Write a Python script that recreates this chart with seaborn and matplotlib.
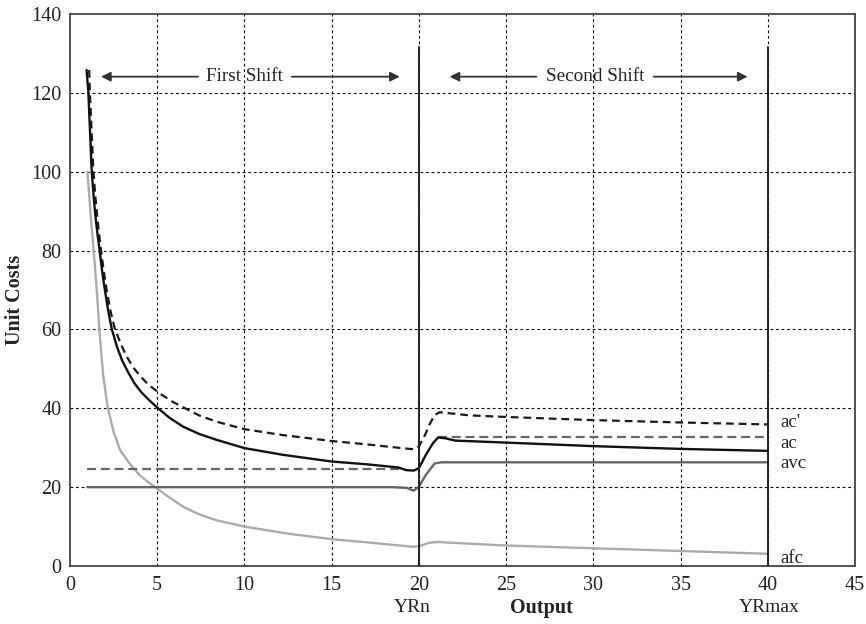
import matplotlib
matplotlib.use("Agg")
import matplotlib.pyplot as plt
import seaborn as sns
import pandas as pd

# ---- data ----
ac_x = [0.95, 1.05, 1.15, 1.24, 1.35, 1.45, 1.58, 1.7, 1.85, 2.0, 2.2, 2.4, 2.7, 3.0, 3.35, 3.7, 4.1, 4.6, 5.0,
        5.7, 6.5, 7.4, 8.4, 10.0, 12.2, 15.0, 17.0, 18.8, 19.3, 19.7, 20.0, 20.4, 20.8, 21.1, 21.5, 22.1,
        25.0, 30.0, 35.0, 40.0]
ac_y = [125.8, 120.3, 110.0, 100.4, 94.0, 89.0, 84.0, 80.0, 74.5, 70.0, 64.5, 60.0, 55.5, 52.0, 49.0, 46.3, 44.0, 41.8, 40.2,
        37.6, 35.3, 33.5, 32.0, 29.9, 28.2, 26.5, 25.8, 25.0, 24.3, 24.2, 24.8, 28.2, 31.1, 32.6, 32.4, 31.8,
        31.3, 30.4, 29.7, 29.2]

acp_x = [1.1, 1.14, 1.24, 1.34, 1.45, 1.55, 1.66, 1.78, 1.93, 2.1, 2.33, 2.58, 2.9, 3.2, 3.6, 4.0, 4.49, 5.2,
         5.9, 6.6, 7.4, 8.4, 10.0, 12.2, 15.0, 16.9, 18.8, 19.7, 20.0, 20.4, 20.6, 20.9, 21.2, 22.9,
         25.0, 30.0, 35.0, 40.0]
acp_y = [125.8, 120.0, 110.0, 100.0, 94.0, 89.0, 84.5, 80.0, 75.0, 70.0, 64.5, 60.0, 56.5, 53.5, 50.5, 48.3, 46.0, 43.6,
         41.6, 40.0, 38.2, 36.6, 34.7, 33.2, 31.7, 30.9, 30.0, 29.6, 30.3, 33.7, 35.8, 38.3, 39.0, 38.2,
         37.8, 37.0, 36.4, 35.9]

avc_x = [1.0, 18.5, 19.3, 19.7, 20.0, 20.4, 20.9, 21.3, 40.0]
avc_y = [20.0, 20.0, 19.8, 19.1, 20.1, 23.1, 26.0, 26.3, 26.3]

afc_x = [1.0, 1.1, 1.2, 1.3, 1.43, 1.55, 1.68, 1.9, 2.15, 2.5, 2.87, 3.5, 4.0, 4.5, 5.0, 5.7, 6.5, 7.4, 8.4,
         10.0, 12.5, 15.0, 17.5, 19.6, 20.0, 20.6, 21.1, 21.8, 25.0, 30.0, 35.0, 40.0]
afc_y = [100.0, 94.0, 88.0, 83.0, 76.0, 69.0, 60.0, 48.5, 40.5, 34.0, 29.4, 25.5, 23.0, 21.2, 19.6, 17.4, 15.0, 13.1, 11.6,
         10.0, 8.2, 6.8, 5.8, 4.9, 5.0, 5.9, 6.1, 5.9, 5.2, 4.5, 3.8, 3.1]

prem1_x = [1.0, 19.0]
prem1_y = [24.6, 24.6]
prem2_x = [21.1, 40.0]
prem2_y = [32.8, 32.8]

x_ticks = [0, 5, 10, 15, 20, 25, 30, 35, 40, 45]
y_ticks = [0, 20, 40, 60, 80, 100, 120, 140]
shift_marks = [20, 40]
shift_mark_top = 131.7
curve_labels = ["ac'", "ac", "avc", "afc"]
curve_label_y = [36.4, 31.0, 25.9, 1.8]
bottom_labels = ["YRn", "YRmax"]
bottom_label_x = [19.6, 40.1]

# ---- style ----
sns.set_theme(style="white")
plt.rcParams["font.family"] = ["Liberation Serif", "DejaVu Serif"]

fig = plt.figure(figsize=(8.66, 6.24), dpi=100)
ax = fig.add_axes([70 / 866, 1 - 566 / 624, (855 - 70) / 866, (566 - 14) / 624])

grid_kw = dict(color="black", lw=0.8, linestyle=(0, (2.5, 2.5)), zorder=0)
for xv in x_ticks[1:-1]:
    ax.axvline(xv, **grid_kw)
for yv in y_ticks[1:-1]:
    ax.axhline(yv, **grid_kw)

def draw(x, y, **kw):
    df = pd.DataFrame({"x": x, "y": y})
    sns.lineplot(data=df, x="x", y="y", ax=ax, sort=False, estimator=None, **kw)

draw(afc_x, afc_y, color="#ababab", lw=1.7)
draw(avc_x, avc_y, color="#666666", lw=1.7)
draw(prem1_x, prem1_y, color="#666666", lw=1.6, linestyle=(0, (4, 2.2)))
draw(prem2_x, prem2_y, color="#666666", lw=1.6, linestyle=(0, (4, 2.2)))
draw(acp_x, acp_y, color="#1a1a1a", lw=1.6, linestyle=(0, (3.5, 2.2)))
draw(ac_x, ac_y, color="#111111", lw=1.7)

for xv in shift_marks:
    ax.plot([xv, xv], [0, shift_mark_top], color="#222222", lw=1.4, zorder=3)

# arrows with labels
arr = dict(arrowstyle="-|>", color="#333333", lw=1.3, mutation_scale=14)
ax.annotate("", xy=(1.62, 124.1), xytext=(7.5, 124.1), arrowprops=arr)
ax.annotate("", xy=(19.06, 124.1), xytext=(12.55, 124.1), arrowprops=arr)
ax.text(10.0, 124.1, "First Shift", ha="center", va="center", fontsize=13.8, color="#222222")
ax.annotate("", xy=(21.6, 124.1), xytext=(26.9, 124.1), arrowprops=arr)
ax.annotate("", xy=(39.0, 124.1), xytext=(33.3, 124.1), arrowprops=arr)
ax.text(30.1, 124.1, "Second Shift", ha="center", va="center", fontsize=13.8, color="#222222")

for lab, yv in zip(curve_labels, curve_label_y):
    ax.text(40.7, yv, lab, ha="left", va="center", fontsize=13.5, color="#222222")

ax.set_xlim(0, 45)
ax.set_ylim(0, 140)
ax.set_xticks(x_ticks)
ax.set_yticks(y_ticks)
ax.tick_params(axis="both", length=0, labelsize=14.5, colors="#222222")
ax.tick_params(axis="x", pad=7)
ax.tick_params(axis="y", pad=6)
ax.set_xlabel("")
ax.set_ylabel("")
for s in ax.spines.values():
    s.set_color("#444444")
    s.set_linewidth(1.3)

for lab, xv in zip(bottom_labels, bottom_label_x):
    ax.text(xv, -10.6, lab, ha="center", va="center", fontsize=14, color="#222222")
ax.text(27.0, -10.6, "Output", ha="center", va="center", fontsize=14.5, fontweight="bold", color="#222222")
fig.text(15 / 866, 1 - 300 / 624, "Unit Costs", rotation=90, ha="center", va="center",
         fontsize=14.5, fontweight="bold", color="#222222")

fig.savefig("out.png", dpi=100)
